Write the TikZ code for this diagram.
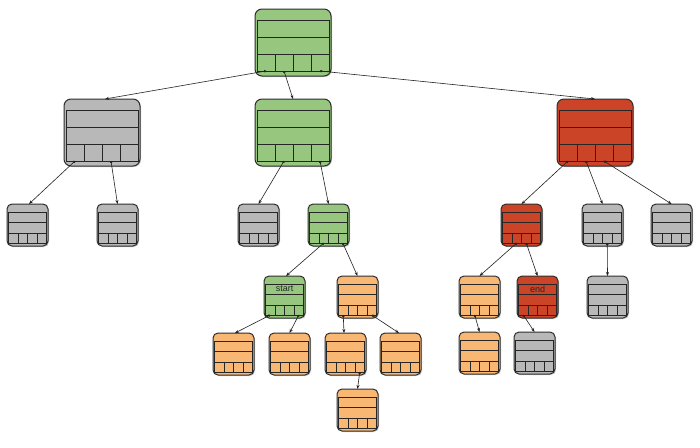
\documentclass[tikz,border=0pt]{standalone}
\usepackage{fontspec}
\setmainfont{Liberation Sans}
\usetikzlibrary{arrows.meta,calc,shadows}
\definecolor{gfill}{HTML}{97C77E}
\definecolor{ofill}{HTML}{F9B774}
\definecolor{rfill}{HTML}{CC4427}
\definecolor{yfill}{HTML}{B8B8B8}
\definecolor{bord}{HTML}{2E2E2E}
\definecolor{conncol}{HTML}{222222}
\tikzset{
  bigbox/.style={draw=bord,line width=1pt,rounded corners=7pt,minimum width=76pt,minimum height=67pt,inner sep=0pt,outer sep=0pt,
    drop shadow={shadow xshift=1pt,shadow yshift=-1pt,opacity=0.4}},
  smallbox/.style={draw=bord,line width=1pt,rounded corners=5pt,minimum width=41pt,minimum height=42pt,inner sep=0pt,outer sep=0pt,
    drop shadow={shadow xshift=1pt,shadow yshift=-1pt,opacity=0.4}},
  inner/.style={draw=black!85,line width=0.9pt},
  conn/.style={draw=conncol,line width=0.6pt,{Circle[length=2.4pt]}-{Stealth[length=4pt,width=3pt]}},
  lbl/.style={font=\fontsize{9}{9}\selectfont,text=black!85,inner sep=0pt}
}
\newcommand\mkbig[4]{%
  \node[bigbox,fill=#4,anchor=north west] (#1) at (#2,#3) {};
  \begin{scope}[shift={(#2,#3)}]
    \draw[inner] (2,11) rectangle (74,62);
    \draw[inner] (2,28) -- (74,28) (2,45) -- (74,45);
    \draw[inner] (20,45) -- (20,62) (38,45) -- (38,62) (56,45) -- (56,62);
    \coordinate (#1-c1) at (11,62);
    \coordinate (#1-c2) at (29,62);
    \coordinate (#1-c3) at (47,62);
    \coordinate (#1-c4) at (65,62);
  \end{scope}
}
\newcommand\mksmall[5]{%
  \node[smallbox,fill=#4,anchor=north west] (#1) at (#2,#3) {};
  \begin{scope}[shift={(#2,#3)}]
    \draw[inner] (1.5,8) rectangle (39.5,39);
    \draw[inner] (1.5,18) -- (39.5,18) (1.5,29) -- (39.5,29);
    \draw[inner] (11,29) -- (11,39) (20.5,29) -- (20.5,39) (30,29) -- (30,39);
    \coordinate (#1-c1) at (6.25,39);
    \coordinate (#1-c2) at (15.75,39);
    \coordinate (#1-c3) at (25.25,39);
    \coordinate (#1-c4) at (34.75,39);
    \node[lbl] (#1-t) at (20.5,13) {#5};
  \end{scope}
}
\begin{document}
\begin{tikzpicture}[x=1pt,y=-1pt]
\useasboundingbox[fill=white] (0,0) rectangle (700,447);
% level 0
\mkbig{root}{255}{9}{gfill}
% level 1
\mkbig{lg}{64}{99}{yfill}
\mkbig{mg}{255}{99}{gfill}
\mkbig{rd}{557}{99}{rfill}
% level 2
\mksmall{ls1}{7}{204}{yfill}{}
\mksmall{ls2}{97}{204}{yfill}{}
\mksmall{ms1}{238}{204}{yfill}{}
\mksmall{ms2}{308}{204}{gfill}{}
\mksmall{rs}{501}{204}{rfill}{}
\mksmall{rg1}{582}{204}{yfill}{}
\mksmall{rg2}{651}{204}{yfill}{}
% level 3
\mksmall{st}{264}{276}{gfill}{start}
\mksmall{o1}{337}{276}{ofill}{}
\mksmall{ro}{459}{276}{ofill}{}
\mksmall{en}{517}{276}{rfill}{end}
\mksmall{rg3}{587}{276}{yfill}{}
% level 4
\mksmall{la}{213}{333}{ofill}{}
\mksmall{lb}{269}{333}{ofill}{}
\mksmall{lc}{325}{333}{ofill}{}
\mksmall{ld}{380}{333}{ofill}{}
\mksmall{ro2}{459}{332}{ofill}{}
\mksmall{eg}{514}{332}{yfill}{}
% level 5
\mksmall{l5}{337}{389}{ofill}{}
% connectors
\draw[conn] (root-c1) -- ($(lg.north)+(3,0)$);
\draw[conn] (root-c2) -- (mg.north);
\draw[conn] (root-c4) -- (rd.north);
\draw[conn] (lg-c1) -- ($(ls1.north)+(1.5,0)$);
\draw[conn] (lg-c3) -- (ls2.north);
\draw[conn] (mg-c2) -- (ms1.north);
\draw[conn] (mg-c4) -- (ms2.north);
\draw[conn] (ms2-c2) -- ($(st.north)+(1.5,0)$);
\draw[conn] (ms2-c4) -- (o1.north);
\draw[conn] (st-c1) -- ($(la.north)+(1.5,0)$);
\draw[conn] (st-c4) -- (lb.north);
\draw[conn] (o1-c1) -- ($(lc.north)+(-1.5,0)$);
\draw[conn] (o1-c4) -- ($(ld.north)+(-1.5,0)$);
\draw[conn] (lc-c4) -- (l5.north);
\draw[conn] (rd-c1) -- (rs.north);
\draw[conn] (rd-c2) -- (rg1.north);
\draw[conn] (rd-c3) -- (rg2.north);
\draw[conn] (rs-c2) -- (ro.north);
\draw[conn] (rs-c3) -- (en.north);
\draw[conn] (rg1-c3) -- (rg3.north);
\draw[conn] (ro-c2) -- (ro2.north);
\draw[conn] (en-c1) -- (eg.north);
\end{tikzpicture}
\end{document}
